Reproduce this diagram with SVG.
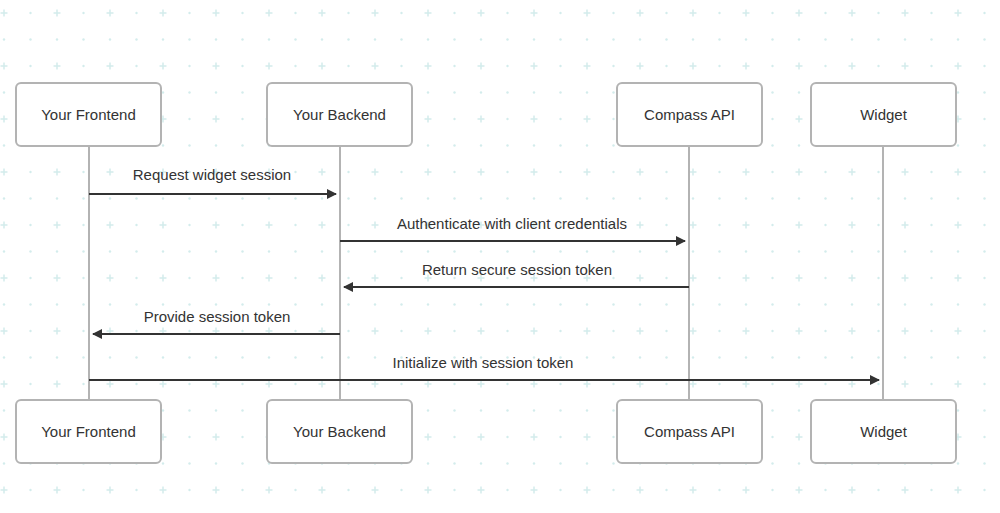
<svg xmlns="http://www.w3.org/2000/svg" width="1000" height="513" viewBox="0 0 1000 513">
<defs>
<pattern id="bg" x="4" y="13" width="53" height="53" patternUnits="userSpaceOnUse">
<path d="M-3.5 0H3.5M0 -3.5V3.5M49.5 0H56.5M53 -3.5V3.5M-3.5 53H3.5M0 49.5V56.5M49.5 53H56.5M53 49.5V56.5" stroke="#d3ecec" stroke-width="1.5"/>
<circle cx="26.5" cy="0" r="1.2" fill="#d3ecec"/><circle cx="0" cy="26.5" r="1.2" fill="#d3ecec"/><circle cx="26.5" cy="26.5" r="1.2" fill="#d3ecec"/><circle cx="53" cy="26.5" r="1.2" fill="#d3ecec"/><circle cx="26.5" cy="53" r="1.2" fill="#d3ecec"/>
</pattern>
<marker id="ah" viewBox="0 0 10 10" refX="9" refY="5" markerWidth="10" markerHeight="10" markerUnits="userSpaceOnUse" orient="auto"><path d="M0 0L10 5L0 10z" fill="#333"/></marker>
<style>
.box{fill:#fff;stroke:#b3b3b3;stroke-width:2}
.life{stroke:#b3b3b3;stroke-width:2}
.t{font-family:"Liberation Sans",Arial,sans-serif;font-size:15px;fill:#333;text-anchor:middle}
.msg{stroke:#333;stroke-width:2;marker-end:url(#ah)}
</style>
</defs>
<rect width="1000" height="513" fill="#fff"/>
<rect width="1000" height="513" fill="url(#bg)"/>
<g id="lifelines">
<line class="life" x1="89" y1="146" x2="89" y2="400"/>
<line class="life" x1="340" y1="146" x2="340" y2="400"/>
<line class="life" x1="689" y1="146" x2="689" y2="400"/>
<line class="life" x1="883" y1="146" x2="883" y2="400"/>
</g>
<g id="frontend-top"><rect class="box" x="16" y="83" width="145" height="63" rx="5"/><text class="t" x="88.5" y="120">Your Frontend</text></g>
<g id="backend-top"><rect class="box" x="267" y="83" width="145" height="63" rx="5"/><text class="t" x="339.5" y="120">Your Backend</text></g>
<g id="compass-top"><rect class="box" x="617" y="83" width="145" height="63" rx="5"/><text class="t" x="689.5" y="120">Compass API</text></g>
<g id="widget-top"><rect class="box" x="811" y="83" width="145" height="63" rx="5"/><text class="t" x="883.5" y="120">Widget</text></g>
<g id="frontend-bottom"><rect class="box" x="16" y="400" width="145" height="63" rx="5"/><text class="t" x="88.5" y="437">Your Frontend</text></g>
<g id="backend-bottom"><rect class="box" x="267" y="400" width="145" height="63" rx="5"/><text class="t" x="339.5" y="437">Your Backend</text></g>
<g id="compass-bottom"><rect class="box" x="617" y="400" width="145" height="63" rx="5"/><text class="t" x="689.5" y="437">Compass API</text></g>
<g id="widget-bottom"><rect class="box" x="811" y="400" width="145" height="63" rx="5"/><text class="t" x="883.5" y="437">Widget</text></g>
<g id="connectors">
<line class="msg" x1="89" y1="194" x2="336" y2="194"/>
<text class="t" x="212" y="180">Request widget session</text>
<line class="msg" x1="340" y1="241" x2="685" y2="241"/>
<text class="t" x="512" y="229">Authenticate with client credentials</text>
<line class="msg" x1="689" y1="287" x2="344" y2="287"/>
<text class="t" x="517" y="275">Return secure session token</text>
<line class="msg" x1="340" y1="334" x2="93" y2="334"/>
<text class="t" x="217" y="322">Provide session token</text>
<line class="msg" x1="89" y1="380" x2="879" y2="380"/>
<text class="t" x="483" y="368">Initialize with session token</text>
</g>
</svg>
